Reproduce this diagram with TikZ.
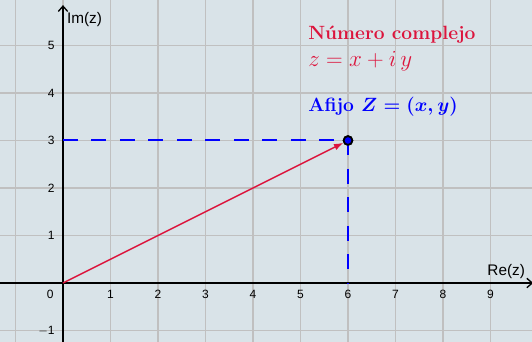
\documentclass[tikz,border=0pt]{standalone}
\usepackage{fontspec}
\newfontfamily\axfont{Liberation Sans}
\usetikzlibrary{arrows.meta}
\definecolor{bgc}{HTML}{D9E3E8}
\definecolor{gridc}{HTML}{C0C0C0}
\definecolor{redc}{HTML}{DC143C}
\definecolor{bluec}{HTML}{0000FF}
\newcommand{\afijotext}{Afijo $Z=(x,y)$}
\tikzset{
  gridline/.style={draw=gridc, line width=1.1pt},
  axisline/.style={draw=black, line width=1.2pt, -{Straight Barb[length=4pt,width=7pt,line width=1pt]}},
  ticklab/.style={font=\axfont\fontsize{9}{10}\selectfont, inner sep=0pt},
  axlab/.style={font=\axfont\fontsize{11.5}{13}\selectfont, inner sep=0pt},
  proj/.style={draw=bluec, line width=1.5pt, dash pattern=on 11.25pt off 10.1pt},
  vec/.style={draw=redc, line width=1.1pt, -{Latex[length=7pt,width=5pt]}},
  ptdot/.style={circle, draw=black, fill=bluec, line width=1.3pt, minimum size=6.5pt, inner sep=0pt},
  txt/.style={inner sep=0pt, anchor=base west}
}
\begin{document}
\begin{tikzpicture}[x=35.625pt, y=35.625pt]
\fill[bgc] (-1.326,-1.242) rectangle (9.874,5.958);
\useasboundingbox (-1.326,-1.242) rectangle (9.874,5.958);
% grid
\foreach \i in {-1,...,9} \draw[gridline] (\i,-1.242) -- (\i,5.958);
\foreach \j in {-1,...,5} \draw[gridline] (-1.326,\j) -- (9.874,\j);
% axes
\coordinate (xs) at (-1.326,0);
\coordinate (xe) at (9.9,0);
\coordinate (ys) at (0,-1.242);
\coordinate (ye) at (0,5.85);
\draw[axisline] (xs) -- (xe);
\draw[axisline] (ys) -- (ye);
% tick labels
\node[ticklab, anchor=north] (t0) at (-0.27,-0.15) {0};
\foreach \i in {1,...,9} \node[ticklab, anchor=north] (tx\i) at (\i,-0.15) {\i};
\foreach \j in {1,...,5} \node[ticklab, anchor=east] (ty\j) at (-0.17,\j) {\j};
\node[ticklab, anchor=east] (tym) at (-0.17,-1) {$-$1};
\node[axlab, anchor=west] (im) at (0.08,5.54) {Im(z)};
\node[axlab, anchor=west] (re) at (8.93,0.25) {Re(z)};
% point and vectors
\coordinate (O) at (0,0);
\coordinate (Y3) at (0,3);
\coordinate (X6) at (6,0);
\node[ptdot] (P) at (6,3) {};
\draw[proj] (Y3) -- (P.center);
\draw[proj] (P.center) -- (X6);
\draw[vec] (O) -- (P);
\node[ptdot] (P2) at (6,3) {};
% texts
\node[txt, text=redc, font=\Large\bfseries] (t1) at (5.158,5.116) {Número complejo};
\node[txt, text=redc, font=\fontsize{16.5}{20}\selectfont] (t2) at (5.158,4.568) {$z=x+i\,y$};
\node[txt, text=bluec, font=\Large\bfseries\boldmath] (t3) at (5.158,3.6) {\afijotext};
\end{tikzpicture}
\end{document}
